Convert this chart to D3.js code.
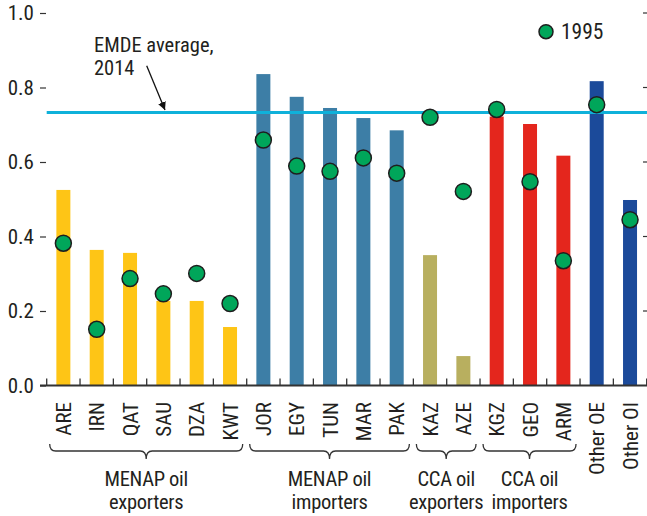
<!DOCTYPE html>
<html><head><meta charset="utf-8">
<script src="https://cdn.jsdelivr.net/npm/d3@7"></script>
<style>
html,body{margin:0;padding:0;background:#fff;}
text{font-family:"Roboto Condensed","Liberation Sans Narrow","Arial Narrow",sans-serif;fill:#231f20;}
</style></head>
<body><svg id="c" width="647" height="516"></svg>
<script>
const categories = ["ARE","IRN","QAT","SAU","DZA","KWT","JOR","EGY","TUN","MAR","PAK","KAZ","AZE","KGZ","GEO","ARM","Other OE","Other OI"];
const values2014 = [0.525,0.364,0.356,0.227,0.227,0.157,0.836,0.775,0.745,0.718,0.685,0.350,0.079,0.722,0.702,0.617,0.817,0.498];
const values1995 = [0.382,0.151,0.287,0.246,0.301,0.220,0.659,0.589,0.575,0.611,0.570,0.720,0.521,0.741,0.547,0.335,0.754,0.445];
const barColors = ["#fec516","#fec516","#fec516","#fec516","#fec516","#fec516","#3d7ea6","#3d7ea6","#3d7ea6","#3d7ea6","#3d7ea6","#b8af5f","#b8af5f","#e4261d","#e4261d","#e4261d","#1b4a9a","#1b4a9a"];
const emdeAverage = 0.733;
const yTicks = [0.0,0.2,0.4,0.6,0.8,1.0];
const groupNames = [["MENAP oil","exporters"],["MENAP oil","importers"],["CCA oil","exporters"],["CCA oil","importers"]];
const groupFirst = ["ARE","JOR","KAZ","KGZ"];
const groupLast = ["KWT","PAK","AZE","ARM"];

const FS = 20.5;
const svg = d3.select("#c");
const x = d3.scaleBand().domain(categories).range([46.7,646.7]).paddingInner(0.58).paddingOuter(0.29);
const y = d3.scaleLinear().domain([0,1]).range([385.5,13]);
const step = x.step(), bw = x.bandwidth();
const bound = c => x(c) + bw/2 - step/2;

// bars
svg.selectAll("rect.bar").data(categories).enter().append("rect")
  .attr("x", c => x(c)).attr("width", bw)
  .attr("y", (c,i) => y(values2014[i])).attr("height", (c,i) => y(0) - y(values2014[i]))
  .attr("fill", (c,i) => barColors[i]);

// EMDE line
svg.append("line").attr("x1",46.7).attr("x2",647).attr("y1",y(emdeAverage)).attr("y2",y(emdeAverage))
  .attr("stroke","#0fb1da").attr("stroke-width",3);

// circles
svg.selectAll("circle.pt").data(categories).enter().append("circle")
  .attr("cx", c => x(c)+bw/2).attr("cy", (c,i) => y(values1995[i])).attr("r",8)
  .attr("fill","#00a65a").attr("stroke","#1e1e1e").attr("stroke-width",1.5);

// x axis line and ticks
svg.append("line").attr("x1",40).attr("x2",647).attr("y1",y(0)).attr("y2",y(0)).attr("stroke","#333").attr("stroke-width",2);
const bounds = categories.map(bound).concat([bound(categories[categories.length-1])+step]);
svg.selectAll("line.xt").data(bounds).enter().append("line")
  .attr("x1",d=>d).attr("x2",d=>d).attr("y1",y(0)).attr("y2",y(0)-7).attr("stroke","#333").attr("stroke-width",1.3);

// y ticks left & right
const yAxis = d3.axisLeft(y).tickValues(yTicks).tickFormat(d3.format(".1f")).tickSize(6).tickPadding(6);
const ga = svg.append("g").attr("transform","translate(46,0)").call(yAxis);
ga.select(".domain").remove();
ga.selectAll(".tick line").attr("stroke","#333").attr("stroke-width",1.2);
ga.selectAll(".tick text").attr("font-size",21).attr("fill","#231f20").style("font-family",null);
ga.attr("font-family",null).attr("font-size",null);
svg.selectAll("line.rt").data(yTicks.filter(d=>d>0)).enter().append("line")
  .attr("x1",643).attr("x2",647).attr("y1",d=>y(d)).attr("y2",d=>y(d)).attr("stroke","#333").attr("stroke-width",1.2);

// x labels
svg.selectAll("text.xl").data(categories).enter().append("text")
  .attr("transform", c => `translate(${x(c)+bw/2+7.5},402) rotate(-90)`)
  .attr("text-anchor","end").attr("font-size",21).text(c=>c);

// braces and group labels
groupNames.forEach((g,i) => {
  const x0 = bound(groupFirst[i]) + 3, x1 = bound(groupLast[i]) + step - 4;
  const cx = (x0+x1)/2;
  const p = `M${x0},444 Q${x0},451 ${x0+6},451 L${cx-6},451 Q${cx},451 ${cx},459 Q${cx},451 ${cx+6},451 L${x1-6},451 Q${x1},451 ${x1},444`;
  svg.append("path").attr("d",p).attr("fill","none").attr("stroke","#333").attr("stroke-width",1.3);
  svg.append("text").attr("x",cx).attr("y",486).attr("text-anchor","middle").attr("font-size",FS).attr("letter-spacing",-0.3).text(g[0]);
  svg.append("text").attr("x",cx).attr("y",509).attr("text-anchor","middle").attr("font-size",FS).attr("letter-spacing",-0.3).text(g[1]);
});

// annotation
svg.append("text").attr("x",94).attr("y",52).attr("font-size",FS).text("EMDE average,");
svg.append("text").attr("x",94).attr("y",75).attr("font-size",FS).text("2014");
svg.append("defs").append("marker").attr("id","ah").attr("viewBox","0 0 10 10").attr("refX",10).attr("refY",5)
  .attr("markerWidth",8).attr("markerHeight",8).attr("orient","auto").attr("markerUnits","userSpaceOnUse")
  .append("path").attr("d","M0,0 L10,5 L0,10 z").attr("fill","#111");
svg.append("line").attr("x1",146.7).attr("y1",65.7).attr("x2",165).attr("y2",110).attr("stroke","#111").attr("stroke-width",1.3).attr("marker-end","url(#ah)");

// legend
svg.append("circle").attr("cx",546).attr("cy",31.7).attr("r",7).attr("fill","#00a65a").attr("stroke","#1e1e1e").attr("stroke-width",1.5);
svg.append("text").attr("x",561).attr("y",39).attr("font-size",21.5).text("1995");
</script></body></html>
